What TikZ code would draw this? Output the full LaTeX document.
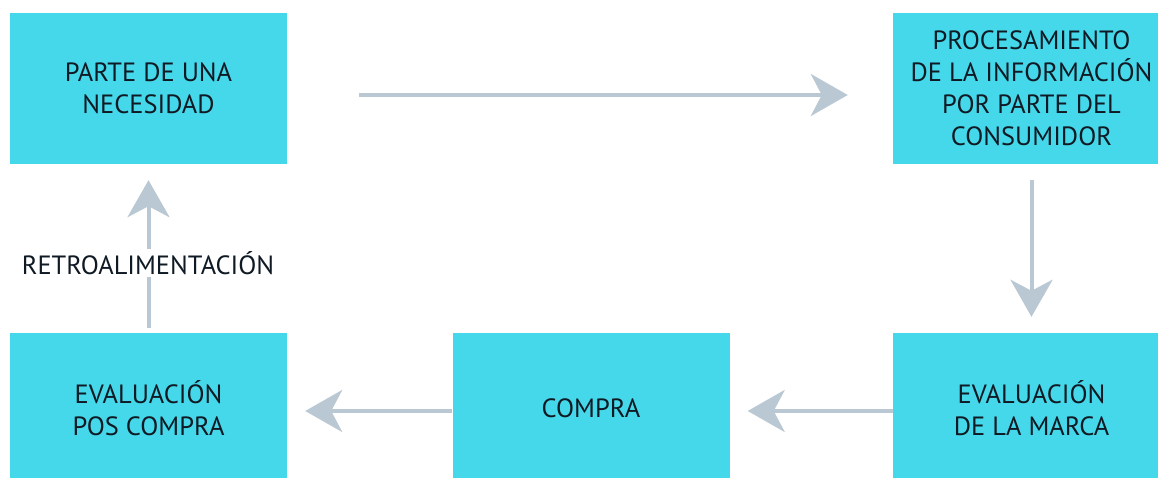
\documentclass[tikz,border=0pt]{standalone}
\usepackage{fontspec}
\setmainfont{PT Sans}
\usetikzlibrary{arrows.meta}
\definecolor{boxcyan}{HTML}{45D8EA}
\definecolor{arrgray}{HTML}{B9C8D2}
\definecolor{txt}{HTML}{0F1A24}
\begin{document}
\begin{tikzpicture}[x=1bp,y=-1bp,
  procbox/.style={fill=boxcyan, draw=none, minimum width=277bp, minimum height=151bp,
    inner sep=0pt, align=center, text=txt, font=\fontsize{26.5}{32}\selectfont},
  arr/.style={draw=arrgray, line width=4bp,
    -{Stealth[length=37bp,width=42bp,inset=11bp,fill=arrgray]}},
  lbl/.style={fill=white, text=txt, inner sep=2bp, font=\fontsize{26.5}{30}\selectfont}]
\useasboundingbox (0,0) rectangle (1158,478);
\clip (0,0) rectangle (1158,478);
\node[procbox] (b1) at (148.5,88.5) {PARTE DE UNA\\NECESIDAD};
\node[procbox] (b2) at (1031.5,88.5) {PROCESAMIENTO\\DE LA INFORMACIÓN\\POR PARTE DEL\\CONSUMIDOR};
\node[procbox] (b3) at (1031.5,408.5) {EVALUACIÓN\\DE LA MARCA};
\node[procbox] (b4) at (591,408.5) {COMPRA};
\node[procbox] (b5) at (148.5,408.5) {EVALUACIÓN\\POS COMPRA};
\draw[arr, shorten <=72bp, shorten >=45bp] ([yshift=-6.5bp]b1.east) -- ([yshift=-6.5bp]b2.west);
\draw[arr, shorten <=16bp, shorten >=16bp] (b2.south) -- (b3.north);
\draw[arr, shorten >=18bp] ([yshift=-2.5bp]b3.west) -- ([yshift=-2.5bp]b4.east);
\draw[arr, shorten >=18bp] ([yshift=-2.5bp]b4.west) -- ([yshift=-2.5bp]b5.east);
\draw[arr, shorten <=5bp, shorten >=16bp] (b5.north) -- (b1.south);
\node[lbl] (fb) at (148,263) {RETROALIMENTACIÓN};
\end{tikzpicture}
\end{document}
